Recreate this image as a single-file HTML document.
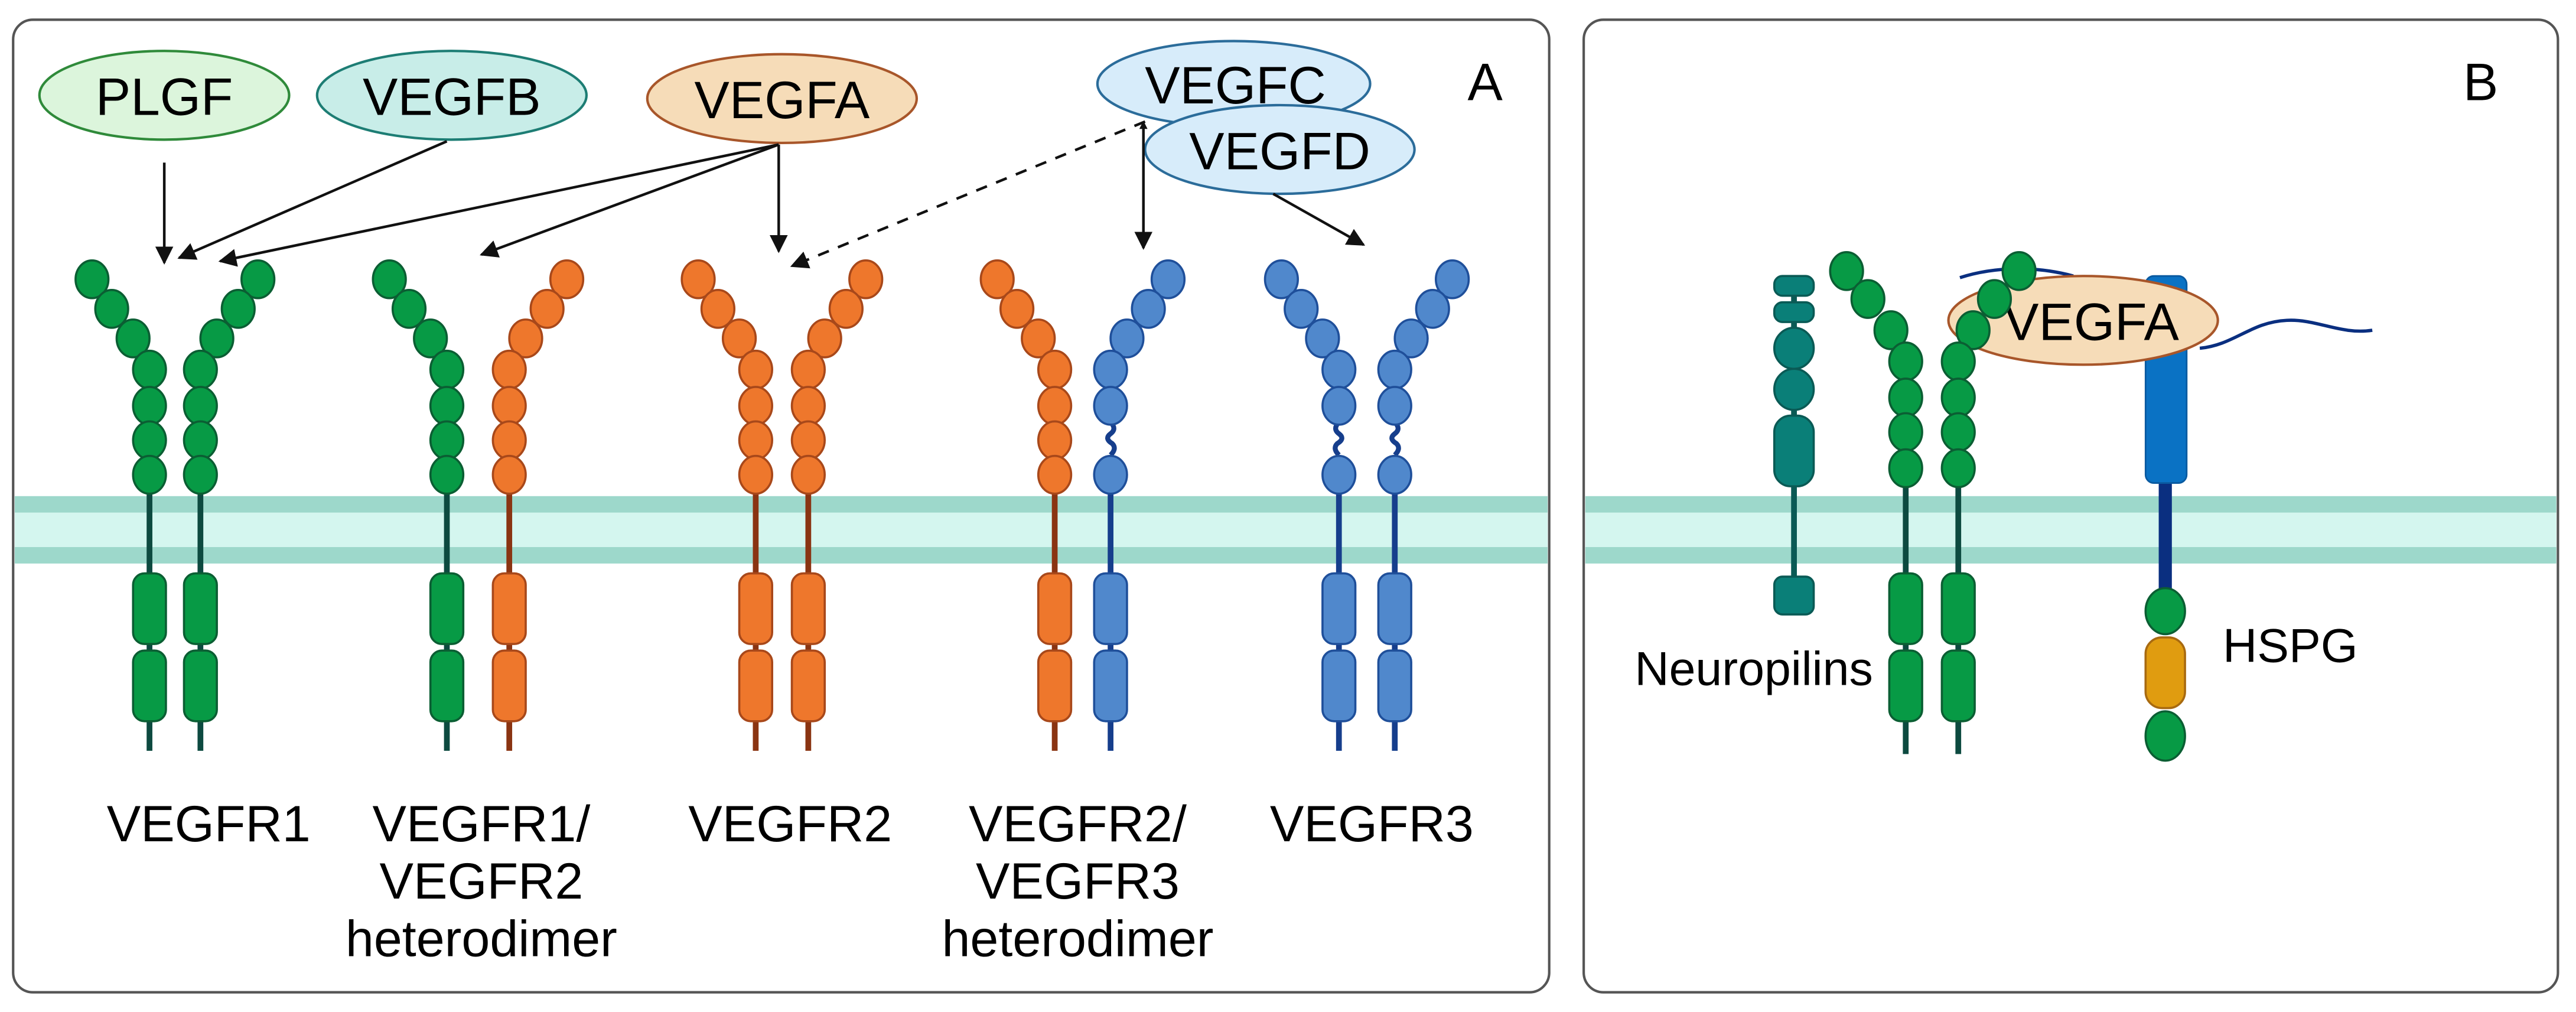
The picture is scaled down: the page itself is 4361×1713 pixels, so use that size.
<!DOCTYPE html>
<html><head><meta charset="utf-8"><style>
html,body{margin:0;padding:0;background:#fff;}
svg{display:block;}
text{font-family:"Liberation Sans",Arial,sans-serif;fill:#000;}
</style></head><body>
<svg width="4361" height="1713" viewBox="0 0 1568 616" preserveAspectRatio="none" xmlns="http://www.w3.org/2000/svg">
<defs>
<marker id="ah" viewBox="0 0 10 10" refX="9" refY="5" markerWidth="5" markerHeight="5" orient="auto-start-reverse" markerUnits="userSpaceOnUse">
<path d="M0,0 L10,5 L0,10 z" fill="#111"/></marker>
<marker id="ah2" viewBox="0 0 10 10" refX="9" refY="5" markerWidth="11" markerHeight="11" orient="auto-start-reverse" markerUnits="userSpaceOnUse">
<path d="M0,0 L10,5 L0,10 z" fill="#111"/></marker>

<g id="cg">
<line x1="0" y1="289" x2="0" y2="457" stroke="#0d4a40" stroke-width="3.5"/>
<g fill="#079a45" stroke="#0b5e33" stroke-width="1.3">
<ellipse cx="-35" cy="170" rx="10" ry="11.5"/><ellipse cx="-23" cy="188" rx="10" ry="11.5"/><ellipse cx="-10" cy="206" rx="10" ry="11.5"/>
<ellipse cx="0" cy="225" rx="10" ry="11.5"/><ellipse cx="0" cy="247" rx="10" ry="11.5"/><ellipse cx="0" cy="268" rx="10" ry="11.5"/><ellipse cx="0" cy="289" rx="10" ry="11.5"/>
<rect x="-10" y="349" width="20" height="43" rx="7"/><rect x="-10" y="396" width="20" height="43" rx="7"/></g></g>

<g id="co">
<line x1="0" y1="289" x2="0" y2="457" stroke="#8a3412" stroke-width="3.5"/>
<g fill="#ee772c" stroke="#a8481a" stroke-width="1.3">
<ellipse cx="-35" cy="170" rx="10" ry="11.5"/><ellipse cx="-23" cy="188" rx="10" ry="11.5"/><ellipse cx="-10" cy="206" rx="10" ry="11.5"/>
<ellipse cx="0" cy="225" rx="10" ry="11.5"/><ellipse cx="0" cy="247" rx="10" ry="11.5"/><ellipse cx="0" cy="268" rx="10" ry="11.5"/><ellipse cx="0" cy="289" rx="10" ry="11.5"/>
<rect x="-10" y="349" width="20" height="43" rx="7"/><rect x="-10" y="396" width="20" height="43" rx="7"/></g></g>

<g id="cb">
<line x1="0" y1="289" x2="0" y2="457" stroke="#163e8c" stroke-width="3.5"/>
<path d="M0,257 q-4,4 0,7 q4,3 -1,6 q-3,3 1,7" fill="none" stroke="#163e8c" stroke-width="3"/>
<g fill="#5088cc" stroke="#1f4f9a" stroke-width="1.3">
<ellipse cx="-35" cy="170" rx="10" ry="11.5"/><ellipse cx="-23" cy="188" rx="10" ry="11.5"/><ellipse cx="-10" cy="206" rx="10" ry="11.5"/>
<ellipse cx="0" cy="225" rx="10" ry="11.5"/><ellipse cx="0" cy="247" rx="10" ry="11.5"/><ellipse cx="0" cy="289" rx="10" ry="11.5"/>
<rect x="-10" y="349" width="20" height="43" rx="7"/><rect x="-10" y="396" width="20" height="43" rx="7"/></g></g>
</defs>

<rect x="8" y="12" width="935" height="592" rx="12" fill="#fff" stroke="#555" stroke-width="1.5"/>
<rect x="964" y="12" width="593" height="592" rx="12" fill="#fff" stroke="#555" stroke-width="1.5"/>

<g>
<rect x="9" y="302" width="933" height="41" fill="#d4f6ef"/>
<rect x="9" y="302" width="933" height="10" fill="#9dd8cb"/>
<rect x="9" y="333" width="933" height="10" fill="#9dd8cb"/>
<rect x="965" y="302" width="591" height="41" fill="#d4f6ef"/>
<rect x="965" y="302" width="591" height="10" fill="#9dd8cb"/>
<rect x="965" y="333" width="591" height="10" fill="#9dd8cb"/>
</g>

<ellipse cx="100" cy="58" rx="76" ry="27" fill="#dcf5dc" stroke="#2f8a3a" stroke-width="1.5"/>
<text x="100" y="70" font-size="32" text-anchor="middle">PLGF</text>
<ellipse cx="275" cy="58" rx="82" ry="27" fill="#c8ede8" stroke="#1d7d74" stroke-width="1.5"/>
<text x="275" y="70" font-size="32" text-anchor="middle">VEGFB</text>
<ellipse cx="476" cy="60" rx="82" ry="27" fill="#f6dcb8" stroke="#a8562a" stroke-width="1.5"/>
<text x="476" y="72" font-size="32" text-anchor="middle">VEGFA</text>
<ellipse cx="751" cy="51" rx="83" ry="26" fill="#d7ecfa" stroke="#2b6c9a" stroke-width="1.5"/>
<text x="752" y="63" font-size="32" text-anchor="middle">VEGFC</text>
<ellipse cx="779" cy="91" rx="82" ry="27" fill="#d7ecfa" stroke="#2b6c9a" stroke-width="1.5"/>
<text x="779" y="103" font-size="32" text-anchor="middle">VEGFD</text>
<text x="904" y="61" font-size="32" text-anchor="middle">A</text>
<text x="1510" y="61" font-size="32" text-anchor="middle">B</text>

<g stroke="#111" stroke-width="1.6" fill="none">
<line x1="100" y1="99" x2="100" y2="160" marker-end="url(#ah2)"/>
<line x1="272" y1="86" x2="109" y2="157" marker-end="url(#ah2)"/>
<line x1="474" y1="88" x2="134" y2="159" marker-end="url(#ah2)"/>
<line x1="474" y1="88" x2="293" y2="155" marker-end="url(#ah2)"/>
<line x1="474" y1="88" x2="474" y2="153" marker-end="url(#ah2)"/>
<line x1="697" y1="74" x2="482" y2="162" stroke-dasharray="7,6" marker-end="url(#ah2)"/>
<line x1="696" y1="74" x2="696" y2="151" marker-end="url(#ah2)" marker-start="url(#ah)"/>
<line x1="775" y1="118" x2="830" y2="149" marker-end="url(#ah2)"/>
</g>

<use href="#cg" transform="translate(91,0)"/>
<use href="#cg" transform="translate(122,0) scale(-1,1)"/>
<use href="#cg" transform="translate(272,0)"/>
<use href="#co" transform="translate(310,0) scale(-1,1)"/>
<use href="#co" transform="translate(460,0)"/>
<use href="#co" transform="translate(492,0) scale(-1,1)"/>
<use href="#co" transform="translate(642,0)"/>
<use href="#cb" transform="translate(676,0) scale(-1,1)"/>
<use href="#cb" transform="translate(815,0)"/>
<use href="#cb" transform="translate(849,0) scale(-1,1)"/>

<g font-size="31" text-anchor="middle">
<text x="127" y="512">VEGFR1</text>
<text x="293" y="512">VEGFR1/</text>
<text x="293" y="547">VEGFR2</text>
<text x="293" y="582">heterodimer</text>
<text x="481" y="512">VEGFR2</text>
<text x="656" y="512">VEGFR2/</text>
<text x="656" y="547">VEGFR3</text>
<text x="656" y="582">heterodimer</text>
<text x="835" y="512">VEGFR3</text>
</g>

<line x1="1092" y1="175" x2="1092" y2="360" stroke="#0a5a55" stroke-width="3.5"/>
<g fill="#0a7f78" stroke="#0a5a55" stroke-width="1.3">
<rect x="1080" y="168" width="24" height="12" rx="5"/>
<rect x="1080" y="184" width="24" height="12" rx="5"/>
<ellipse cx="1092" cy="212" rx="12" ry="12.5"/>
<ellipse cx="1092" cy="237" rx="12" ry="12.5"/>
<rect x="1080" y="253" width="24" height="43" rx="10"/>
<rect x="1080" y="351" width="24" height="23" rx="5"/>
</g>
<line x1="1318" y1="290" x2="1318" y2="362" stroke="#0a2f80" stroke-width="8"/>
<rect x="1306" y="168" width="25" height="126" rx="5" fill="#0a72c4" stroke="#0a5aa0" stroke-width="1"/>
<g stroke-width="1.3">
<ellipse cx="1318" cy="372" rx="12" ry="14" fill="#079a45" stroke="#0b5e33"/>
<rect x="1306" y="388" width="24" height="43" rx="10" fill="#e09c10" stroke="#a86a10"/>
<ellipse cx="1318" cy="448" rx="12" ry="15" fill="#079a45" stroke="#0b5e33"/>
</g>
<path d="M1193,169 C1215,162 1240,162 1262,168 M1339,212 C1360,210 1370,196 1392,195 C1410,194 1425,204 1444,201" fill="none" stroke="#0a2f80" stroke-width="2"/>
<ellipse cx="1268" cy="195" rx="82" ry="27" fill="#f6dcb8" stroke="#a8562a" stroke-width="1.5"/>
<text x="1273" y="207" font-size="32" text-anchor="middle">VEGFA</text>
<line x1="1160" y1="285" x2="1160" y2="459" stroke="#0d4a40" stroke-width="3.5"/>
<line x1="1192" y1="285" x2="1192" y2="459" stroke="#0d4a40" stroke-width="3.5"/>
<g fill="#079a45" stroke="#0b5e33" stroke-width="1.3">
<ellipse cx="1124" cy="165" rx="10" ry="11.5"/><ellipse cx="1137" cy="182" rx="10" ry="11.5"/><ellipse cx="1151" cy="201" rx="10" ry="11.5"/>
<ellipse cx="1160" cy="220" rx="10" ry="11.5"/><ellipse cx="1160" cy="242" rx="10" ry="11.5"/><ellipse cx="1160" cy="263" rx="10" ry="11.5"/><ellipse cx="1160" cy="285" rx="10" ry="11.5"/>
<rect x="1150" y="349" width="20" height="43" rx="7"/><rect x="1150" y="396" width="20" height="43" rx="7"/>
<ellipse cx="1229" cy="165" rx="10" ry="11.5"/><ellipse cx="1214" cy="182" rx="10" ry="11.5"/><ellipse cx="1201" cy="201" rx="10" ry="11.5"/>
<ellipse cx="1192" cy="220" rx="10" ry="11.5"/><ellipse cx="1192" cy="242" rx="10" ry="11.5"/><ellipse cx="1192" cy="263" rx="10" ry="11.5"/><ellipse cx="1192" cy="285" rx="10" ry="11.5"/>
<rect x="1182" y="349" width="20" height="43" rx="7"/><rect x="1182" y="396" width="20" height="43" rx="7"/>
</g>
<text x="995" y="417" font-size="29">Neuropilins</text>
<text x="1353" y="403" font-size="29">HSPG</text>
</svg>
</body></html>
